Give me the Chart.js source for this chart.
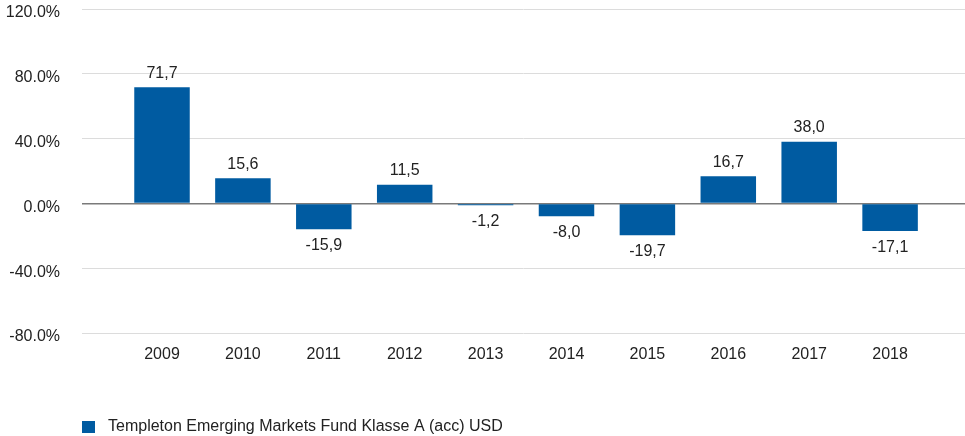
<!DOCTYPE html>
<html>
<head>
<meta charset="utf-8">
<script src="https://cdn.jsdelivr.net/npm/chart.js@4"></script>
<style>
  html, body { margin: 0; padding: 0; background: #fff; }
  #wrap { width: 965px; height: 436px; }
</style>
</head>
<body>
<div id="wrap"><canvas id="barChart" width="965" height="436"></canvas></div>
<script>
// chart data
const years = ["2009", "2010", "2011", "2012", "2013", "2014", "2015", "2016", "2017", "2018"];
const returns = [71.7, 15.6, -15.9, 11.5, -1.2, -8.0, -19.7, 16.7, 38.0, -17.1];
const seriesName = "Templeton Emerging Markets Fund Klasse A (acc) USD";
const yTicks = [-80, -40, 0, 40, 80, 120];

const FONT = "'Liberation Sans', Arial, sans-serif";
const FONT_SIZE = 16;
const BLUE = "#005ba1";
const TEXT = "#222222";

// value labels above / below each bar
const valueLabels = {
  id: "valueLabels",
  afterDatasetsDraw(chart) {
    const { ctx } = chart;
    const meta = chart.getDatasetMeta(0);
    ctx.save();
    ctx.font = `${FONT_SIZE}px ${FONT}`;
    ctx.fillStyle = TEXT;
    ctx.textAlign = "center";
    ctx.textBaseline = "middle";
    meta.data.forEach((bar, i) => {
      const v = returns[i];
      const txt = v.toFixed(1).replace(".", ",");
      const y = v >= 0 ? bar.y - 14 : bar.y + 16;
      ctx.fillText(txt, bar.x, y);
    });
    ctx.restore();
  },
};

// simple legend in the bottom-left corner
const bottomLegend = {
  id: "bottomLegend",
  afterDraw(chart) {
    const { ctx, chartArea } = chart;
    const x = chartArea.left;
    const y = chart.height - 9;
    ctx.save();
    ctx.fillStyle = BLUE;
    ctx.fillRect(x, y - 6, 13, 12);
    ctx.font = `${FONT_SIZE}px ${FONT}`;
    ctx.fillStyle = TEXT;
    ctx.textAlign = "left";
    ctx.textBaseline = "middle";
    ctx.fillText(chart.data.datasets[0].label, x + 26, y);
    ctx.restore();
  },
};

const ctx = document.getElementById("barChart").getContext("2d");
new Chart(ctx, {
  type: "bar",
  data: {
    datasets: [
      {
        label: seriesName,
        data: returns.map((v, i) => ({ x: i, y: v })),
        backgroundColor: BLUE,
        borderWidth: 0,
        barPercentage: 0.686,
        categoryPercentage: 1,
      },
    ],
  },
  options: {
    responsive: false,
    animation: false,
    layout: { padding: 0 },
    plugins: {
      legend: { display: false },
      tooltip: { enabled: false },
    },
    scales: {
      x: {
        type: "linear",
        offset: false,
        min: -0.989,
        max: 9.926,
        grid: { display: false, drawTicks: false },
        border: { display: false },
        afterFit: (s) => {
          s.height = 103;
          s.paddingLeft = 0;
          s.paddingRight = 0;
        },
        afterBuildTicks: (s) => {
          s.ticks = years.map((_, i) => ({ value: i }));
        },
        ticks: {
          autoSkip: false,
          maxRotation: 0,
          padding: 12,
          color: TEXT,
          font: { family: FONT, size: FONT_SIZE, lineHeight: 1.2 },
          callback: (v) => years[v] ?? null,
        },
      },
      y: {
        min: yTicks[0],
        max: yTicks[yTicks.length - 1],
        afterFit: (s) => {
          s.width = 82;
          s.paddingTop = 9;
          s.paddingBottom = 0;
        },
        afterBuildTicks: (s) => {
          s.ticks = yTicks.map((v) => ({ value: v }));
        },
        grid: {
          drawTicks: false,
          color: (c) => (c.tick && c.tick.value === 0 ? "#7a7a7a" : "#dcdcdc"),
          lineWidth: (c) => (c.tick && c.tick.value === 0 ? 1.5 : 1),
        },
        border: { display: false },
        ticks: {
          padding: 22,
          labelOffset: 4,
          color: TEXT,
          font: { family: FONT, size: FONT_SIZE, lineHeight: 1 },
          callback: (v) => v.toFixed(1) + "%",
        },
      },
    },
  },
  plugins: [valueLabels, bottomLegend],
});
</script>
</body>
</html>
